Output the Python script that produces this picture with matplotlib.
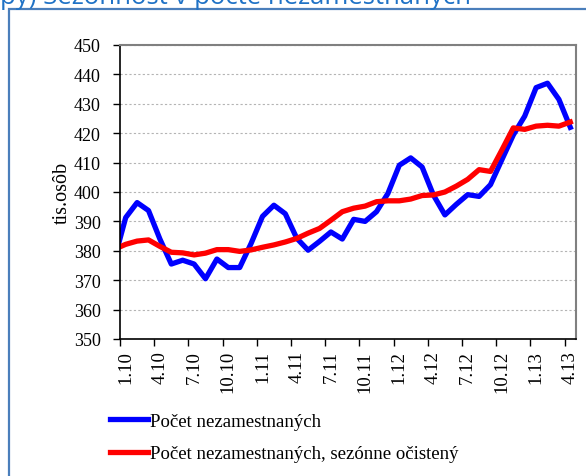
import numpy as np
import matplotlib
matplotlib.use("Agg")
import matplotlib.pyplot as plt
from matplotlib.patches import Rectangle

# monthly data Dec 2009 .. Apr 2013 (first point lies left of the plot area)
unemployed = [377.0, 391.3, 396.4, 393.7, 384.0, 375.5, 376.8, 375.5, 370.5, 377.2,
              374.3, 374.3, 382.5, 391.7, 395.5, 392.6, 384.3, 380.2, 383.2, 386.4,
              384.0, 390.7, 390.0, 393.3, 399.5, 409.1, 411.6, 408.5, 398.9, 392.2,
              395.8, 399.1, 398.5, 402.5, 411.0, 419.4, 425.8, 435.5, 437.0, 431.5,
              422.0]
seas_adj = [380.5, 382.2, 383.3, 383.7, 381.5, 379.5, 379.3, 378.6, 379.2, 380.4,
            380.4, 379.8, 380.3, 381.2, 382.0, 383.0, 384.2, 386.0, 387.6, 390.4,
            393.3, 394.5, 395.2, 396.7, 397.0, 397.0, 397.6, 398.8, 399.0, 400.0,
            402.0, 404.3, 407.6, 407.0, 414.3, 421.8, 421.3, 422.4, 422.7, 422.4,
            423.8]
tick_labels = ["1.10", "4.10", "7.10", "10.10", "1.11", "4.11", "7.11", "10.11",
               "1.12", "4.12", "7.12", "10.12", "1.13", "4.13"]
label_blue = "Počet nezamestnaných"
label_red = "Počet nezamestnaných, sezónne očistený"
title = "py) Sezónnosť v počte nezamestnaných"

W, H = 586, 477
fig = plt.figure(figsize=(W / 100, H / 100), dpi=100)
ax = fig.add_axes([120 / W, 1 - 340 / H, 456 / W, 294 / H])

x = np.arange(len(unemployed)) - 1
ax.plot(x, unemployed, color="#0000ff", lw=3.8, label=label_blue, solid_joinstyle="round")
ax.plot(x, seas_adj, color="#ff0000", lw=3.8, label=label_red, solid_joinstyle="round")

ax.set_xlim(-0.5, 39.5)
ax.set_ylim(350, 450)
ax.set_yticks(np.arange(350, 451, 10))
ax.yaxis.grid(True, color="#b4b4b4", ls=(0, (2, 2)), lw=0.8)
ax.set_axisbelow(True)

# tick marks between categories, labels on category centres
ax.set_xticks(np.arange(-0.5, 39, 3))
ax.set_xticklabels([])
ax.set_xticks(np.arange(0, 40, 3), minor=True)
ax.set_xticklabels(tick_labels, minor=True, rotation=90, fontsize=13.5,
                   family="Liberation Serif")
ax.tick_params(axis="x", which="minor", length=0, pad=8)
ax.tick_params(axis="x", which="major", length=5, width=1, direction="out")
ax.tick_params(axis="y", length=5, width=1, pad=9, labelsize=13)
for lab in ax.get_yticklabels():
    lab.set_family("Liberation Serif")

ax.set_ylabel("tis.osôb", family="Liberation Serif", fontsize=14.5, labelpad=1)

for s in ["left", "bottom"]:
    ax.spines[s].set_color("black")
    ax.spines[s].set_linewidth(1.2)
for s in ["top", "right"]:
    ax.spines[s].set_color("#808080")
    ax.spines[s].set_linewidth(1.5)

fig.legend(loc="center left", bbox_to_anchor=(110 / W, 1 - 438.5 / H),
           frameon=False, borderpad=0, borderaxespad=0, handlelength=2.0,
           handletextpad=0.15, labelspacing=0.8,
           prop={"family": "Liberation Serif", "size": 13.5})

# outer blue frame (runs past the right and bottom edge)
fig.patches.append(Rectangle((9 / W, -0.1), 1.2, 1 - 10 / H + 0.1,
                             transform=fig.transFigure, fill=False,
                             ec="#4a7ebb", lw=1.6))
fig.text(0, 1 - 4.5 / H, title, color="#1f72c6", fontsize=18.5,
         family="Open Sans", va="baseline", ha="left")

fig.savefig("out.png", dpi=100)
